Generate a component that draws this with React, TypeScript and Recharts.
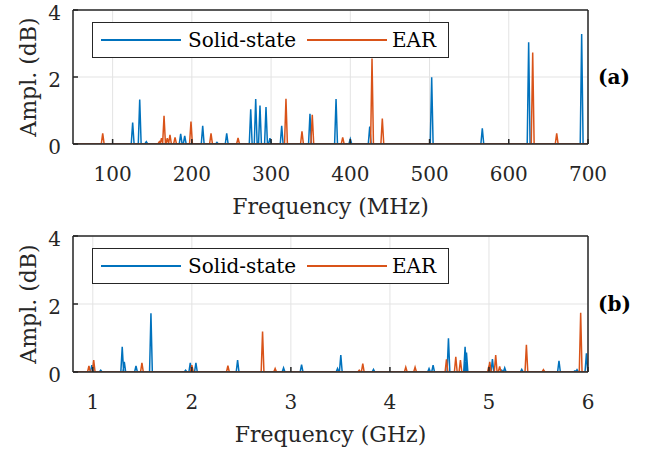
import React from "react";
import { LineChart, Line, XAxis, YAxis, CartesianGrid } from "recharts";

const BLUE = "#0072BD";
const ORANGE = "#D95319";
const AXIS = "#262626";
const FONT = "'DejaVu Serif', 'Liberation Serif', serif";

const ampTicks = [0, 2, 4];

// (a) 50-700 MHz
const mhzTicks = [100, 200, 300, 400, 500, 600, 700];
const ssFreqMHz = [125.3, 134.2, 142.5, 185.9, 191, 213.7, 231.7, 244, 274.3, 280.6, 286, 293.6, 298.6, 313.4, 349.1, 382, 400, 424.5, 502.7, 566.6, 625.1, 692];
const ssAmpMHz = [0.64, 1.33, 0.07, 0.3, 0.24, 0.54, 0.05, 0.32, 1.04, 1.34, 1.15, 1.1, 0.17, 0.54, 0.9, 1.34, 0.15, 0.52, 1.99, 0.47, 3.04, 3.28];
const earFreqMHz = [87.5, 159, 161.7, 164.9, 169, 172.4, 178.8, 198.9, 224.2, 258.3, 318.8, 339, 352, 390.4, 427.4, 440.4, 630.2, 660.5];
const earAmpMHz = [0.32, 0.07, 0.17, 0.84, 0.17, 0.27, 0.2, 0.67, 0.32, 0.18, 1.35, 0.38, 0.87, 0.2, 2.55, 0.76, 2.73, 0.32];

// (b) 0.8-6 GHz
const ghzTicks = [1, 2, 3, 4, 5, 6];
const ssFreqGHz = [0.99, 1.08, 1.297, 1.318, 1.436, 1.587, 1.937, 1.984, 2.041, 2.462, 2.926, 3.108, 3.471, 3.504, 3.834, 4.395, 4.436, 4.591, 4.759, 4.773, 5.035, 5.129, 5.159, 5.331, 5.707, 5.866, 5.889, 5.984];
const ssAmpGHz = [0.2, 0.05, 0.74, 0.3, 0.18, 1.73, 0.05, 0.27, 0.27, 0.35, 0.12, 0.22, 0.1, 0.5, 0.08, 0.1, 0.2, 0.99, 0.74, 0.57, 0.38, 0.05, 0.12, 0.08, 0.33, 0.03, 0.07, 0.55];
const earFreqGHz = [0.961, 1.009, 1.496, 2.0, 2.364, 2.714, 2.841, 3.69, 3.726, 4.16, 4.254, 4.571, 4.665, 4.712, 5.0, 5.008, 5.068, 5.108, 5.378, 5.55, 5.926];
const earAmpGHz = [0.18, 0.35, 0.27, 0.2, 0.19, 1.19, 0.1, 0.05, 0.25, 0.14, 0.14, 0.37, 0.45, 0.35, 0.19, 0.3, 0.5, 0.16, 0.8, 0.07, 1.74];

type Pt = { f: number; v: number };

// narrow spikes on a zero baseline
function spikes(freqs: number[], amps: number[], lo: number, hi: number, hw: number): Pt[] {
  const pts: Pt[] = [{ f: lo, v: 0 }];
  freqs.forEach((f, i) => {
    pts.push({ f: f - hw, v: 0 }, { f, v: amps[i] }, { f: f + hw, v: 0 });
  });
  pts.push({ f: hi, v: 0 });
  return pts;
}

const xTickFont = { fontSize: 20, fill: AXIS, fontFamily: FONT };
const yTickFont = { fontSize: 20, fill: AXIS, fontFamily: FONT, dy: 3 };

function Legend({ top }: { top: number }) {
  const txt: React.CSSProperties = { position: "absolute", top: 0, fontSize: 20, lineHeight: "34px", fontFamily: FONT, color: "#000" };
  const ln = (left: number, color: string): React.CSSProperties => ({ position: "absolute", left, top: 16, width: 80, height: 2, background: color });
  return (
    <div style={{ position: "absolute", left: 92, top, width: 355, height: 34, border: `1.5px solid ${AXIS}`, background: "#fff" }}>
      <div style={ln(8, BLUE)} />
      <div style={{ ...txt, left: 95 }}>Solid-state</div>
      <div style={ln(214, ORANGE)} />
      <div style={{ ...txt, left: 299 }}>EAR</div>
    </div>
  );
}

interface PanelProps {
  top: number;
  plotH: number;
  domain: [number, number];
  ticks: number[];
  ss: Pt[];
  ear: Pt[];
  xLabel: string;
  tag: string;
}

function Panel({ top, plotH, domain, ticks, ss, ear, xLabel, tag }: PanelProps) {
  const plotTop = top + 10;
  const plotBottom = plotTop + plotH;
  return (
    <>
      <div style={{ position: "absolute", left: 0, top: top - 10 }}>
        <LineChart width={650} height={20 + plotH + 60} margin={{ top: 19, right: 61, left: 13, bottom: 0 }}>
          <CartesianGrid stroke="#e3e3e3" strokeWidth={1} />
          <XAxis dataKey="f" type="number" domain={domain} ticks={ticks} allowDataOverflow interval={0}
            height={60} stroke={AXIS} strokeWidth={1.5} tickSize={-5} tickMargin={28} tick={xTickFont} />
          <XAxis xAxisId="top" orientation="top" type="number" domain={domain} ticks={ticks} allowDataOverflow
            height={1} stroke={AXIS} strokeWidth={1.5} tickSize={-5} tick={false} />
          <YAxis type="number" domain={[0, 4]} ticks={ampTicks} allowDataOverflow interval={0}
            width={60} stroke={AXIS} strokeWidth={1.5} tickSize={-5} tickMargin={17} tick={yTickFont} />
          <YAxis yAxisId="right" orientation="right" type="number" domain={[0, 4]} ticks={ampTicks} allowDataOverflow
            width={1} stroke={AXIS} strokeWidth={1.5} tickSize={-5} tick={false} />
          <Line data={ss} dataKey="v" type="linear" stroke={BLUE} strokeWidth={1.5} dot={false} isAnimationActive={false} />
          <Line data={ear} dataKey="v" type="linear" stroke={ORANGE} strokeWidth={1.5} dot={false} isAnimationActive={false} />
        </LineChart>
      </div>
      <Legend top={plotTop + 12} />
      <div style={{ position: "absolute", left: 29, top: (plotTop + plotBottom) / 2, transform: "translate(-50%, -50%) rotate(-90deg)",
        fontSize: 22, lineHeight: "22px", fontFamily: FONT, color: AXIS, whiteSpace: "nowrap" }}>Ampl. (dB)</div>
      <div style={{ position: "absolute", left: 0, width: 661, textAlign: "center", top: plotBottom + 52,
        fontSize: 22, lineHeight: "22px", fontFamily: FONT, color: AXIS, whiteSpace: "nowrap" }}>{xLabel}</div>
      <div style={{ position: "absolute", left: 598, top: (plotTop + plotBottom) / 2 - 12,
        fontSize: 20, lineHeight: "24px", fontWeight: "bold", fontFamily: FONT, color: "#000" }}>{tag}</div>
    </>
  );
}

export default function App() {
  const ssA = spikes(ssFreqMHz, ssAmpMHz, 50, 700, 1.8);
  const earA = spikes(earFreqMHz, earAmpMHz, 50, 700, 1.8);
  const ssB = spikes(ssFreqGHz, ssAmpGHz, 0.8, 6, 0.014);
  const earB = spikes(earFreqGHz, earAmpGHz, 0.8, 6, 0.014);
  return (
    <div style={{ position: "fixed", left: 0, top: 0, width: 650, height: 455, background: "#fff", overflow: "hidden" }}>
      <Panel top={0} plotH={134} domain={[50, 700]} ticks={mhzTicks} ss={ssA} ear={earA} xLabel="Frequency (MHz)" tag="(a)" />
      <Panel top={226} plotH={136} domain={[0.8, 6]} ticks={ghzTicks} ss={ssB} ear={earB} xLabel="Frequency (GHz)" tag="(b)" />
    </div>
  );
}
